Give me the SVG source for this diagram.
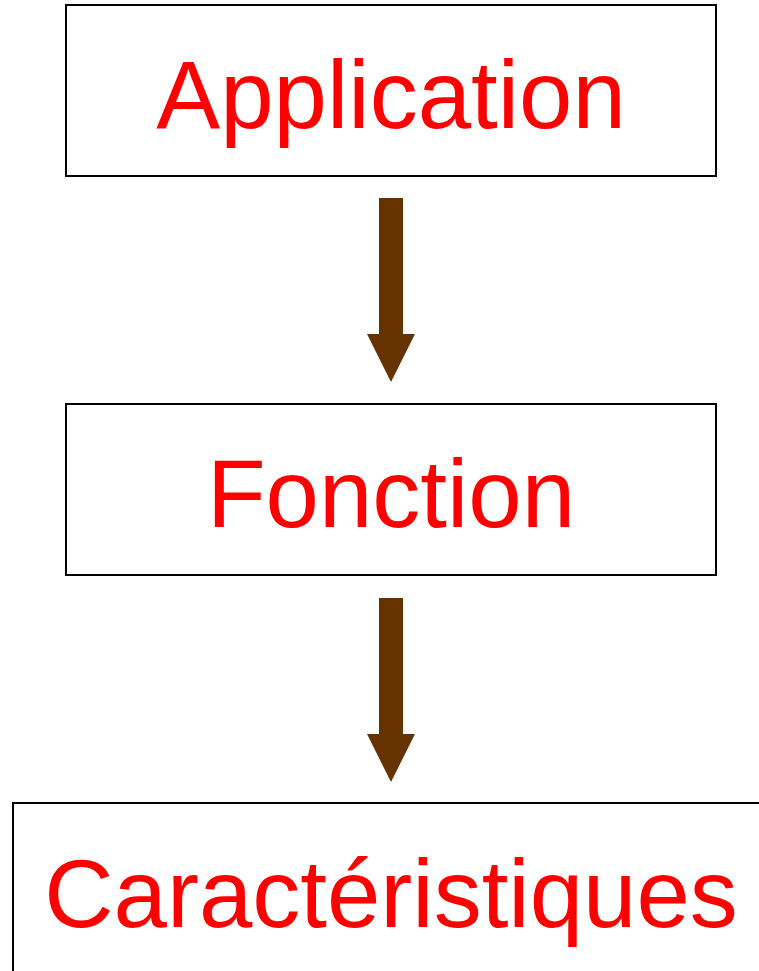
<svg xmlns="http://www.w3.org/2000/svg" width="759" height="971" viewBox="0 0 759 971">
<style>
.box{fill:#fff;stroke:#000;stroke-width:2}
.lbl{font-family:"Liberation Sans",Arial,sans-serif;font-size:96px;fill:#ff0000;text-anchor:middle}
.arr{fill:#663300}
</style>
<rect width="759" height="971" fill="#fff"/>
<g id="node-application">
<rect class="box" x="66" y="5" width="650" height="171"/>
<text class="lbl" x="391" y="128">Application</text>
</g>
<g id="node-fonction">
<rect class="box" x="66" y="404" width="650" height="171"/>
<text class="lbl" x="391" y="527">Fonction</text>
</g>
<g id="node-caracteristiques">
<rect class="box" x="13" y="803" width="760" height="190"/>
<text class="lbl" x="391" y="927">Caractéristiques</text>
</g>
<g id="connectors">
<polygon class="arr" points="379,198 403,198 403,334 415,334 391,382 367,334 379,334"/>
<polygon class="arr" points="379,598 403,598 403,734 415,734 391,782 367,734 379,734"/>
</g>
</svg>
